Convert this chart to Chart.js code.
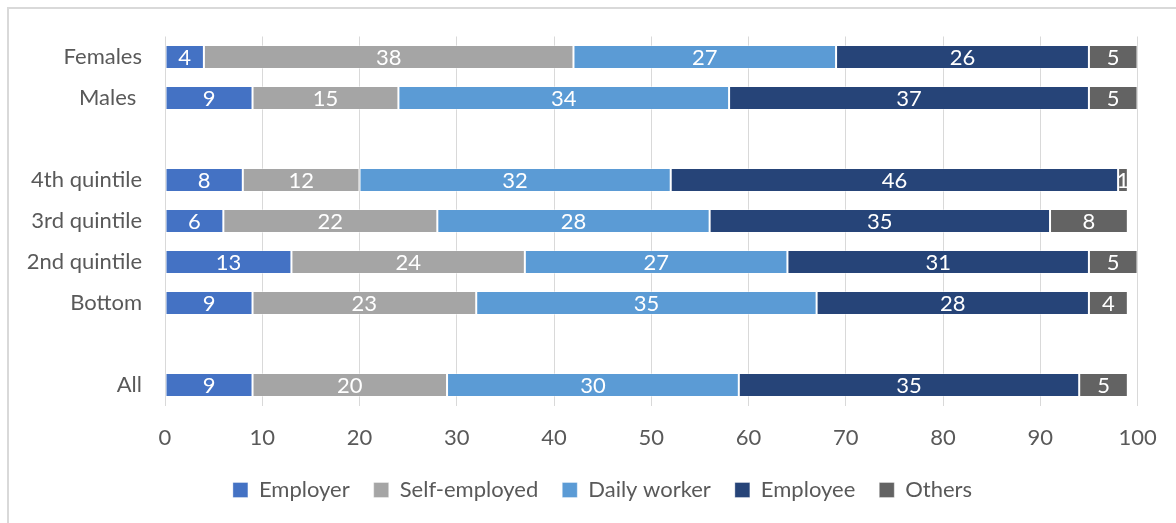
<!DOCTYPE html>
<html>
<head>
<meta charset="utf-8">
<script src="https://cdn.jsdelivr.net/npm/chart.js@4"></script>
<style>
  html, body { margin: 0; padding: 0; background: #fff; }
  #wrap { position: relative; width: 1176px; height: 523px; overflow: hidden; }
  #frame { position: absolute; left: 7px; top: 7px; width: 1200px; height: 600px;
           border-left: 2px solid #d9d9d9; border-top: 2px solid #d9d9d9; box-sizing: border-box; }
  canvas { position: absolute; left: 0; top: 0; }
</style>
</head>
<body>
<div id="wrap">
  <div id="frame"></div>
  <canvas id="c" width="1176" height="523"></canvas>
</div>
<script>
// Rows of the chart, top to bottom (empty labels are spacer rows)
const categories = ['Females', 'Males ', '', '4th quintile', '3rd quintile', '2nd quintile', 'Bottom', '', 'All'];

// Share of workers by employment status (%)
const employer     = [4,  9,  null, 8,  6,  13, 9,  null, 9];
const selfEmployed = [38, 15, null, 12, 22, 24, 23, null, 20];
const dailyWorker  = [27, 34, null, 32, 28, 27, 35, null, 30];
const employee     = [26, 37, null, 46, 35, 31, 28, null, 35];
const others       = [5,  5,  null, 1,  8,  5,  4,  null, 5];

const xTicks = [0, 10, 20, 30, 40, 50, 60, 70, 80, 90, 100];

const FONT = 'Lato';
const SIZE = 22;
const TEXT = '#595959';

// Writes each segment's value in white at its centre
const segmentLabels = {
  id: 'segmentLabels',
  afterDatasetsDraw(chart) {
    const ctx = chart.ctx;
    ctx.save();
    ctx.fillStyle = '#ffffff';
    ctx.font = SIZE + 'px ' + FONT;
    ctx.textAlign = 'center';
    ctx.textBaseline = 'middle';
    chart.data.datasets.forEach((ds, di) => {
      const meta = chart.getDatasetMeta(di);
      meta.data.forEach((bar, i) => {
        const v = ds.data[i];
        if (v === null || v === undefined) return;
        const p = bar.getCenterPoint();
        ctx.fillText(String(v), p.x, p.y + 1);
      });
    });
    ctx.restore();
  }
};

// Centres the legend row a little right of the canvas middle
const legendShift = {
  id: 'legendShift',
  afterLayout(chart) {
    if (chart.legend) {
      chart.legend.left += 31.5;
      chart.legend.right += 31.5;
    }
  }
};

const series = [
  ['Employer', employer, '#4472C4'],
  ['Self-employed', selfEmployed, '#A5A5A5'],
  ['Daily worker', dailyWorker, '#5B9BD5'],
  ['Employee', employee, '#264478'],
  ['Others', others, '#636363']
];

new Chart(document.getElementById('c'), {
  type: 'bar',
  data: {
    labels: categories,
    datasets: series.map(([label, data, color]) => ({
      label, data,
      backgroundColor: color,
      borderColor: 'rgba(255,255,255,0.35)',
      borderWidth: 1,
      borderSkipped: false,
      barPercentage: 1,
      categoryPercentage: 24 / 41
    }))
  },
  options: {
    indexAxis: 'y',
    responsive: false,
    animation: false,
    layout: { padding: { left: 0, right: 34, top: 36.5, bottom: 12 } },
    scales: {
      x: {
        stacked: true,
        min: 0, max: 100,
        afterBuildTicks(scale) { scale.ticks = xTicks.map(v => ({ value: v })); },
        afterFit(scale) { scale.height = 49.5; },
        grid: { color: '#d9d9d9', lineWidth: 1, drawTicks: false },
        border: { display: false },
        ticks: { color: TEXT, font: { family: FONT, size: SIZE }, padding: 19.3, maxRotation: 0 }
      },
      y: {
        stacked: true,
        afterFit(scale) { scale.width = 165; },
        grid: { display: false, drawTicks: false },
        border: { display: false },
        ticks: { color: TEXT, font: { family: FONT, size: SIZE }, padding: 23, autoSkip: false }
      }
    },
    plugins: {
      legend: {
        position: 'bottom',
        labels: {
          color: TEXT,
          font: { family: FONT, size: SIZE },
          boxWidth: 15, boxHeight: 15,
          padding: 24
        }
      },
      tooltip: { enabled: false }
    }
  },
  plugins: [segmentLabels, legendShift]
});
</script>
</body>
</html>
